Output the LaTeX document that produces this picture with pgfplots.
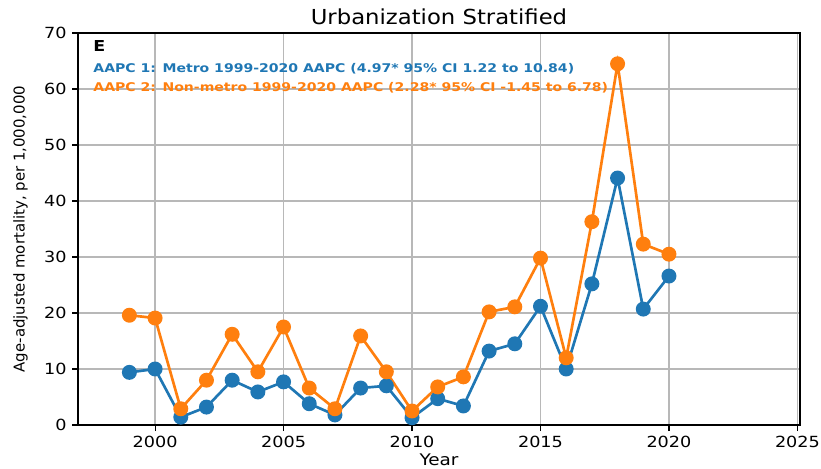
\documentclass[border=0pt]{standalone}
\usepackage{pgfplots}
\pgfplotsset{compat=1.18}
\usepackage{fontspec}
\setmainfont{DejaVu Sans}
\definecolor{tabblue}{HTML}{1F77B4}
\definecolor{taborange}{HTML}{FF7F0E}
\begin{document}
\begin{tikzpicture}
\path[use as bounding box] (0pt,0pt) rectangle (615.75pt,351pt);
\begin{axis}[
  at={(58.5pt,32.25pt)}, anchor=south west,
  scale only axis, width=541.5pt, height=294pt,
  xmin=1997, xmax=2025.1, ymin=0, ymax=70,
  xtick={2000,2005,...,2025}, ytick={0,10,...,70},
  tick pos=left,
  xticklabel style={/pgf/number format/1000 sep={}},
  /pgf/number format/assume math mode=true,
  tick label style={font=\fontsize{11.5}{13}\selectfont, xscale=1.15},
  xlabel style={font=\fontsize{12}{14}\selectfont, xscale=1.15, inner sep=0pt, at={(axis description cs:0.5,0)}, anchor=base, yshift=-30pt},
  ylabel style={font=\fontsize{11.2}{13}\selectfont, yshift=5pt},
  title style={font=\fontsize{15.5}{18}\selectfont, xscale=1.1, inner sep=0pt, at={(axis description cs:0.5,1)}, anchor=base, yshift=0pt},
  title={Urbanization Stratified},
  xlabel={Year}, ylabel={Age-adjusted mortality, per 1,000,000},
  grid=major, major grid style={black!28, line width=0.9pt},
  tick align=outside, major tick length=4.5pt,
  tick style={black, line width=0.8pt},
  axis line style={line width=0.9pt},
  clip=false,
]
\addplot[tabblue, line width=2pt, mark=*, mark size=4.6pt, mark options={solid}] coordinates {
(1999,9.4)(2000,10.0)(2001,1.4)(2002,3.2)(2003,8.0)(2004,5.9)(2005,7.7)(2006,3.8)(2007,1.8)(2008,6.6)(2009,7.0)(2010,1.3)(2011,4.7)(2012,3.4)(2013,13.2)(2014,14.5)(2015,21.2)(2016,10.0)(2017,25.2)(2018,44.1)(2019,20.7)(2020,26.6)};
\addplot[taborange, line width=2pt, mark=*, mark size=4.6pt, mark options={solid}] coordinates {
(1999,19.6)(2000,19.1)(2001,2.9)(2002,8.0)(2003,16.2)(2004,9.5)(2005,17.5)(2006,6.6)(2007,2.9)(2008,15.9)(2009,9.5)(2010,2.5)(2011,6.8)(2012,8.6)(2013,20.2)(2014,21.1)(2015,29.8)(2016,12.0)(2017,36.3)(2018,64.5)(2019,32.3)(2020,30.5)};
\node[anchor=west, font=\fontsize{11.3}{13}\selectfont\bfseries, xscale=1.16, inner sep=0pt] at (rel axis cs:0.021,0.967) {E};
\node[anchor=west, font=\fontsize{9}{11}\selectfont\bfseries, text=tabblue, xscale=1.17, inner sep=0pt] at (rel axis cs:0.021,0.908) {AAPC 1: Metro 1999-2020 AAPC (4.97* 95\% CI 1.22 to 10.84)};
\node[anchor=west, font=\fontsize{9}{11}\selectfont\bfseries, text=taborange, xscale=1.17, inner sep=0pt] at (rel axis cs:0.021,0.860) {AAPC 2: Non-metro 1999-2020 AAPC (2.28* 95\% CI -1.45 to 6.78)};
\end{axis}
\end{tikzpicture}
\end{document}
